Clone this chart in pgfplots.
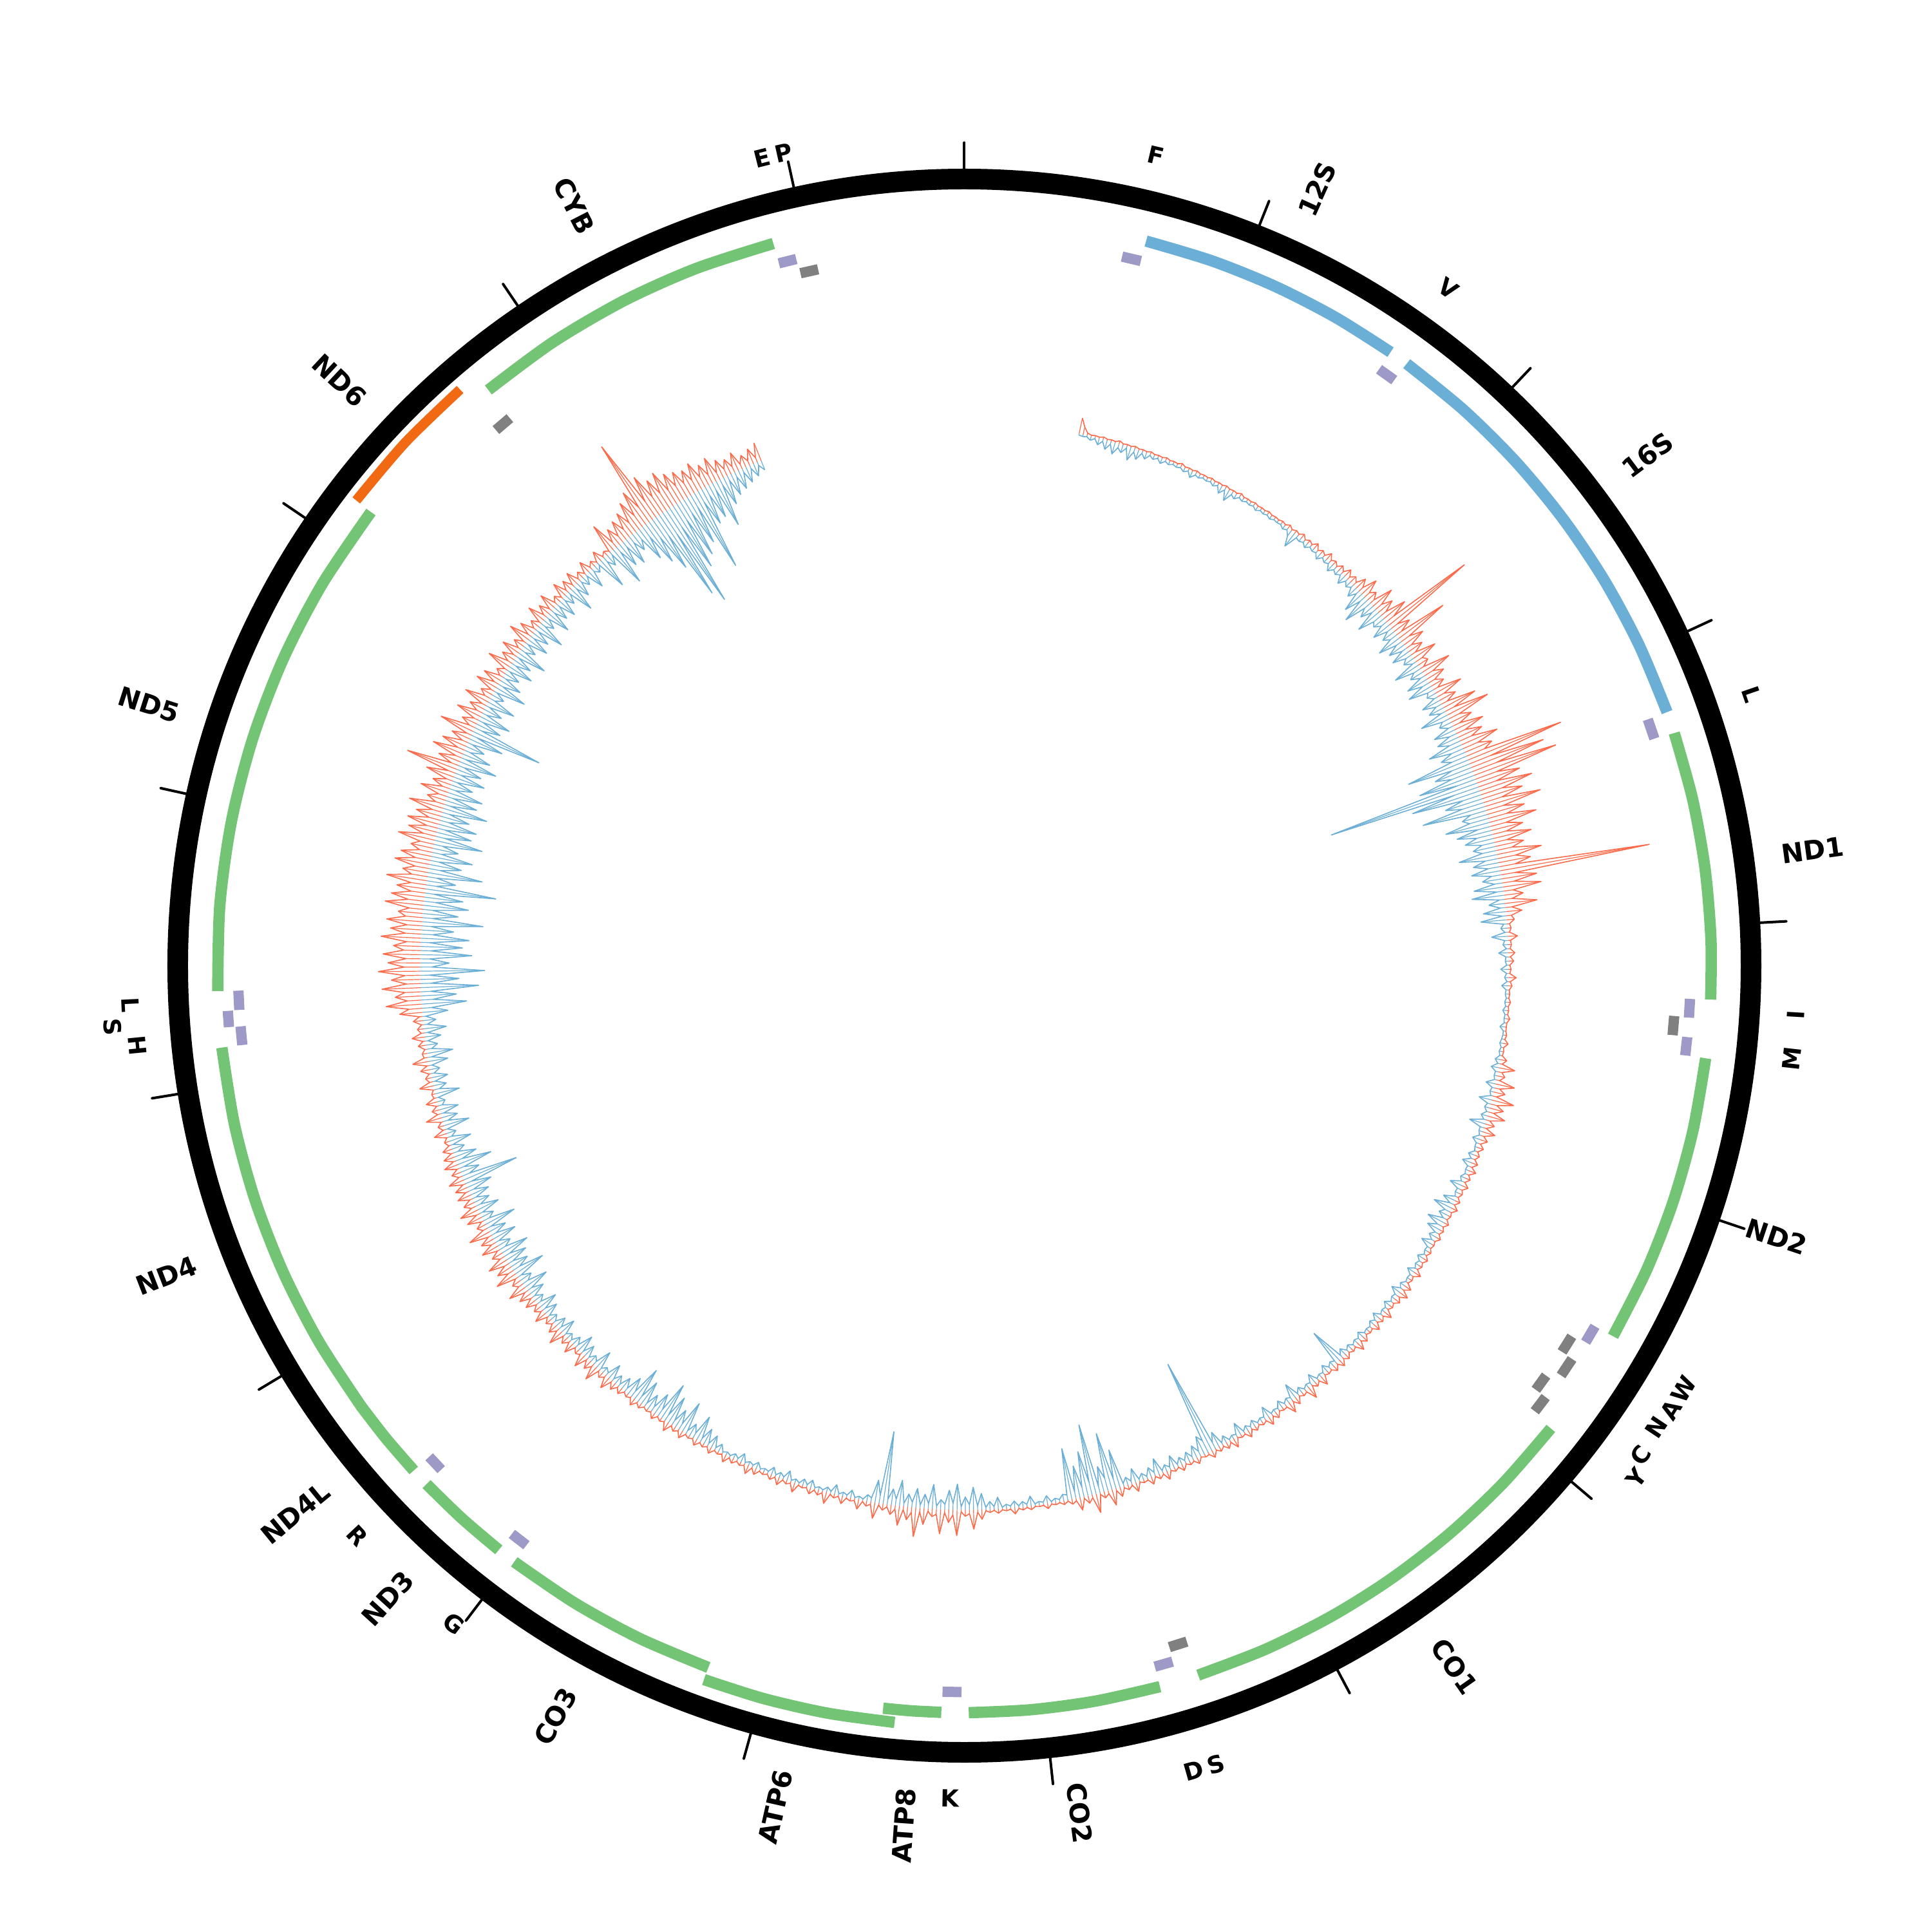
\documentclass[border=0pt]{standalone}
\usepackage{pgfplots}
\pgfplotsset{compat=1.18}
\usepackage{pgfplotstable}
\usepackage{fontspec}
\setmainfont{DejaVu Sans}
\definecolor{cgreen}{HTML}{74C476}
\definecolor{cblue}{HTML}{6BAED6}
\definecolor{corange}{HTML}{F16913}
\definecolor{cpurple}{HTML}{9E9AC8}
\definecolor{cgray}{HTML}{808080}
\definecolor{cred}{HTML}{FB6A4A}
\pgfplotsset{
  table/arc/.style={/pgfplots/table/row sep=\\,
    /pgfplots/table/x expr={#1*sin(\thisrow{b}*0.02172732)},
    /pgfplots/table/y expr={#1*cos(\thisrow{b}*0.02172732)}},
  gene/.style={line width=4.4pt, color=#1, smooth},
  trna/.style={line width=4pt, color=#1},
}
\pgfplotstableread{
b R B
560 25 2
580 12 3
600 4 2
620 2 6
640 3 2
660 2 10
680 4 3
700 2 14
720 3 4
740 2 18
760 5 6
780 2 12
800 3 3
820 2 20
840 4 5
860 2 15
880 3 3
900 2 10
920 4 2
940 2 6
960 3 2
980 2 8
1000 4 2
1020 2 5
1040 3 2
1060 2 4
1080 5 2
1100 2 6
1120 3 2
1140 2 10
1160 4 3
1180 2 5
1200 3 2
1220 2 4
1240 4 2
1260 2 6
1280 3 2
1300 2 12
1320 4 3
1340 2 18
1360 3 4
1380 2 8
1400 5 2
1420 2 5
1440 3 2
1460 2 4
1480 4 2
1500 2 6
1520 3 2
1540 2 4
1560 4 2
1580 2 5
1600 3 2
1620 2 3
1640 4 2
1660 2 6
1680 6 3
1700 2 10
1720 5 25
1740 3 4
1760 8 6
1780 2 3
1800 6 8
1820 3 2
1840 10 5
1860 2 3
1880 7 10
1900 3 2
1920 12 6
1940 4 3
1960 8 12
1980 3 4
2000 10 8
2020 4 3
2040 14 15
2060 5 4
2080 12 10
2100 6 5
2120 20 18
2140 8 6
2160 30 35
2180 10 10
2200 18 45
2220 8 12
2240 38 25
2260 12 8
2280 28 40
2300 10 15
2320 42 20
2340 15 10
2360 150 30
2380 12 8
2400 30 22
2420 10 12
2440 85 38
2460 15 10
2480 36 28
2500 10 8
2520 25 30
2540 8 10
2560 40 18
2580 12 6
2600 18 42
2620 6 12
2640 48 22
2660 15 8
2680 30 35
2700 10 12
2720 22 40
2740 8 10
2760 45 15
2780 12 6
2800 28 30
2820 10 10
2840 55 25
2860 15 8
2880 70 45
2900 18 12
2920 35 20
2940 12 8
2960 48 35
2980 15 12
3000 40 35
3020 20 18
3040 60 55
3060 25 20
3080 45 40
3100 30 25
3120 155 100
3140 35 30
3160 120 60
3180 40 35
3200 135 90
3220 35 30
3240 70 240
3260 30 40
3280 85 110
3300 35 30
3320 65 60
3340 30 35
3360 90 100
3380 28 25
3400 60 40
3420 30 30
3440 75 70
3460 25 20
3480 50 55
3500 22 25
3520 60 45
3540 20 20
3560 45 35
3580 25 22
3600 70 60
3620 28 20
3640 50 40
3660 25 18
3680 235 45
3700 22 15
3720 55 30
3740 18 12
3760 60 45
3780 15 10
3800 30 50
3820 12 8
3840 50 25
3860 10 8
3880 25 35
3900 8 6
3920 12 40
3940 4 5
3960 6 10
3980 3 4
4000 15 25
4020 4 5
4040 5 8
4060 3 3
4080 10 15
4100 3 4
4120 8 5
4140 2 3
4160 4 12
4180 2 3
4200 12 6
4220 3 2
4240 6 10
4260 2 3
4280 3 4
4300 2 2
4320 5 4
4340 2 2
4360 3 6
4380 2 2
4400 6 3
4420 2 2
4440 2 8
4460 2 2
4480 4 2
4500 2 3
4520 8 5
4540 2 2
4560 3 4
4580 2 2
4600 10 8
4620 4 3
4640 25 12
4660 6 4
4680 12 5
4700 5 3
4720 30 15
4740 8 4
4760 18 6
4780 6 3
4800 35 20
4820 10 5
4840 22 8
4860 8 3
4880 28 10
4900 6 4
4920 15 25
4940 4 6
4960 20 6
4980 4 3
5000 12 12
5020 3 4
5040 10 4
5060 3 2
5080 8 10
5100 3 3
5120 10 15
5140 3 4
5160 12 5
5180 3 3
5200 8 8
5220 2 4
5240 10 20
5260 3 5
5280 6 6
5300 2 3
5320 8 20
5340 2 6
5360 10 30
5380 3 8
5400 5 15
5420 2 5
5440 8 28
5460 2 8
5480 6 22
5500 2 5
5520 8 12
5540 2 4
5560 4 18
5580 2 4
5600 6 5
5620 2 2
5640 8 10
5660 3 3
5680 6 6
5700 2 2
5720 12 12
5740 3 3
5760 5 4
5780 2 2
5800 12 8
5820 3 3
5840 15 15
5860 4 4
5880 10 6
5900 3 2
5920 6 10
5940 2 3
5960 14 5
5980 3 2
6000 8 12
6020 2 3
6040 12 8
6060 3 2
6080 5 4
6100 2 2
6120 10 10
6140 3 3
6160 15 6
6180 3 2
6200 6 8
6220 2 3
6240 9 12
6260 3 4
6280 12 57
6300 3 4
6320 10 8
6340 3 3
6360 5 12
6380 2 3
6400 15 5
6420 3 2
6440 8 15
6460 2 4
6480 20 6
6500 4 2
6520 6 10
6540 2 3
6560 12 25
6580 3 5
6600 18 8
6620 4 3
6640 5 12
6660 2 3
6680 10 5
6700 3 2
6720 14 18
6740 3 4
6760 6 6
6780 2 2
6800 8 10
6820 2 3
6840 12 8
6860 3 2
6880 5 20
6900 2 4
6920 15 6
6940 3 2
6960 10 12
6980 3 3
7000 8 25
7020 3 10
7040 12 150
7060 4 20
7080 5 30
7100 2 8
7120 10 20
7140 3 5
7160 6 15
7180 2 4
7200 10 12
7220 2 3
7240 6 20
7260 2 4
7280 14 10
7300 3 3
7320 8 25
7340 2 5
7360 12 15
7380 3 3
7400 5 10
7420 2 3
7440 15 22
7460 3 4
7480 8 12
7500 3 4
7520 15 60
7540 4 15
7560 25 90
7580 5 20
7600 10 40
7620 3 10
7640 30 110
7660 5 20
7680 12 70
7700 3 15
7720 20 50
7740 4 10
7760 8 80
7780 2 8
7800 6 10
7820 2 3
7840 4 6
7860 2 2
7880 8 12
7900 2 3
7920 3 5
7940 2 2
7960 6 15
7980 2 3
8000 5 8
8020 2 2
8040 10 10
8060 2 3
8080 4 6
8100 2 2
8120 7 18
8140 2 4
8160 5 12
8180 2 3
8200 15 25
8220 4 6
8240 30 35
8260 6 8
8280 10 20
8300 3 5
8320 40 40
8340 8 10
8360 20 30
8380 5 8
8400 38 15
8420 8 5
8440 12 38
8460 4 8
8480 25 22
8500 6 5
8520 45 30
8540 8 8
8560 20 20
8580 5 5
8600 30 40
8620 6 10
8640 15 25
8660 4 8
8680 10 113
8700 3 12
8720 25 35
8740 4 6
8760 8 10
8780 2 2
8800 15 5
8820 3 2
8840 5 12
8860 2 3
8880 12 6
8900 2 2
8920 6 15
8940 2 3
8960 18 8
8980 3 2
9000 8 5
9020 2 2
9040 10 12
9060 2 3
9080 4 10
9100 2 2
9120 15 6
9140 3 2
9160 6 15
9180 2 3
9200 12 8
9220 2 2
9240 8 12
9260 2 3
9280 5 5
9300 2 2
9320 10 10
9340 2 3
9360 14 6
9380 3 2
9400 6 14
9420 2 3
9440 8 8
9460 2 2
9480 12 5
9500 2 2
9520 5 12
9540 2 3
9560 10 20
9580 2 4
9600 6 25
9620 2 6
9640 10 40
9660 2 8
9680 5 20
9700 2 5
9720 12 50
9740 3 10
9760 8 30
9780 2 8
9800 15 45
9820 3 10
9840 6 60
9860 2 12
9880 10 35
9900 2 8
9920 5 25
9940 2 6
9960 8 40
9980 3 10
10000 12 55
10020 3 10
10040 6 30
10060 2 6
10080 10 20
10100 3 4
10120 12 15
10140 3 4
10160 20 25
10180 4 5
10200 10 10
10220 3 3
10240 25 30
10260 5 6
10280 15 12
10300 3 3
10320 22 20
10340 4 4
10360 8 28
10380 2 5
10400 18 15
10420 3 3
10440 12 10
10460 3 3
10480 25 25
10500 5 5
10520 15 18
10540 3 4
10560 10 12
10580 2 3
10600 20 22
10620 4 5
10640 12 30
10660 3 6
10680 18 15
10700 4 4
10720 20 25
10740 6 8
10760 30 40
10780 8 10
10800 15 20
10820 5 6
10840 35 50
10860 10 12
10880 25 30
10900 8 8
10920 32 35
10940 8 10
10960 18 45
10980 5 10
11000 28 22
11020 8 6
11040 22 38
11060 6 8
11080 35 28
11100 8 6
11120 15 50
11140 4 10
11160 25 20
11180 6 5
11200 30 35
11220 8 8
11240 18 25
11260 5 6
11280 22 30
11300 6 8
11320 20 40
11340 5 10
11360 25 88
11380 6 12
11400 15 30
11420 4 8
11440 22 55
11460 5 10
11480 18 35
11500 4 8
11520 15 20
11540 3 4
11560 8 35
11580 2 6
11600 20 15
11620 4 3
11640 10 40
11660 3 8
11680 25 25
11700 5 5
11720 12 30
11740 3 6
11760 18 12
11780 4 3
11800 6 38
11820 2 8
11840 22 20
11860 5 4
11880 10 25
11900 3 5
11920 15 15
11940 4 4
11960 25 30
11980 6 6
12000 8 40
12020 3 8
12040 12 18
12060 4 4
12080 20 25
12100 5 5
12120 10 35
12140 3 6
12160 15 20
12180 5 5
12200 35 40
12220 20 15
12240 55 70
12260 22 18
12280 40 55
12300 25 15
12320 60 90
12340 22 16
12360 45 60
12380 24 14
12400 65 100
12420 25 18
12440 50 45
12460 22 15
12480 58 80
12500 26 16
12520 42 65
12540 22 14
12560 62 75
12580 25 18
12600 48 50
12620 23 15
12640 55 95
12660 26 16
12680 38 55
12700 22 15
12720 60 70
12740 25 18
12760 52 60
12780 22 14
12800 45 110
12820 24 16
12840 63 45
12860 25 15
12880 40 85
12900 22 18
12920 55 50
12940 24 14
12960 48 65
12980 20 15
13000 35 40
13020 22 14
13040 58 75
13060 20 15
13080 45 55
13100 18 12
13120 50 60
13140 18 14
13160 40 45
13180 16 12
13200 55 70
13220 15 10
13240 30 50
13260 14 10
13280 45 55
13300 12 10
13320 30 35
13340 10 8
13360 45 50
13380 12 10
13400 82 40
13420 12 10
13440 35 60
13460 10 8
13480 50 45
13500 12 10
13520 40 30
13540 10 8
13560 30 55
13580 8 10
13600 55 113
13620 10 12
13640 25 40
13660 8 8
13680 40 50
13700 10 8
13720 25 30
13740 8 6
13760 40 45
13780 10 8
13800 20 20
13820 6 5
13840 35 50
13860 8 8
13880 30 35
13900 6 6
13920 15 25
13940 5 5
13960 38 40
13980 8 8
14000 22 30
14020 6 5
14040 30 48
14060 6 8
14080 18 22
14100 5 4
14120 35 35
14140 6 6
14160 25 28
14180 5 5
14200 15 45
14220 4 8
14240 30 20
14260 6 5
14280 20 38
14300 5 6
14320 28 25
14340 5 5
14360 12 30
14380 3 5
14400 25 18
14420 5 4
14440 18 42
14460 4 6
14480 22 25
14500 4 4
14520 12 15
14540 3 3
14560 20 30
14580 4 5
14600 10 12
14620 3 3
14640 18 50
14660 3 8
14680 8 20
14700 3 5
14720 47 63
14740 10 10
14760 30 40
14780 12 10
14800 35 45
14820 15 12
14840 40 30
14860 18 15
14880 50 55
14900 22 20
14920 60 70
14940 28 30
14960 138 90
14980 30 35
15000 70 146
15020 30 40
15040 55 165
15060 28 35
15080 60 110
15100 25 30
15120 50 95
15140 25 25
15160 45 80
15180 22 22
15200 40 129
15220 20 20
15240 45 60
15260 18 15
15280 35 55
15300 15 12
15320 40 75
15340 12 10
15360 30 45
15380 12 8
15400 25 35
15420 10 8
15440 30 30
15460 8 6
15480 20 25
15500 8 5
15520 25 20
15540 8 5
15560 30 15
}\spikes
\newcommand\glab[2]{%
  \pgfmathsetmacro\th{#1*0.02172732}%
  \pgfmathsetmacro\ph{90-\th}%
  \ifdim\th pt<180pt
    \node[font=\fontsize{10.3}{12}\selectfont\bfseries, rotate=\ph, anchor=west, inner sep=0pt] at (\ph:320pt) {#2};%
  \else
    \pgfmathsetmacro\phb{\ph+180}%
    \node[font=\fontsize{10.3}{12}\selectfont\bfseries, rotate=\phb, anchor=east, inner sep=0pt] at (\ph:320pt) {#2};%
  \fi}
\newcommand\tlab[3]{%
  \pgfmathsetmacro\th{#1*0.02172732}%
  \pgfmathsetmacro\ph{90-\th}%
  \pgfmathsetmacro\rot{ifthenelse(or(\th<90,\th>=270),-\th,180-\th)}%
  \pgfmathsetmacro\rr{#2*0.25}%
  \node[font=\fontsize{9.2}{11}\selectfont\bfseries, rotate=\rot, inner sep=0pt] at (\ph:\rr pt) {#3};}
\begin{document}
\begin{tikzpicture}
\begin{axis}[x=0.25pt, y=0.25pt, xmin=-1497.5, xmax=1502.5, ymin=-1500.5, ymax=1499.5,
  hide axis, clip=false, anchor=origin, at={(0,0)}]
% inner data: blue (inward), then red (outward)
\addplot[cblue, line width=0.3pt,
  quiver={u=-\thisrow{B}*sin(\thisrow{b}*0.02172732), v=-\thisrow{B}*cos(\thisrow{b}*0.02172732)}]
  table[x expr={845*sin(\thisrow{b}*0.02172732)}, y expr={845*cos(\thisrow{b}*0.02172732)}] {\spikes};
\addplot[cblue, line width=0.4pt, line join=round]
  table[x expr={(845-\thisrow{B})*sin(\thisrow{b}*0.02172732)}, y expr={(845-\thisrow{B})*cos(\thisrow{b}*0.02172732)}] {\spikes};
\addplot[cred, line width=0.3pt,
  quiver={u=\thisrow{R}*sin(\thisrow{b}*0.02172732), v=\thisrow{R}*cos(\thisrow{b}*0.02172732)}]
  table[x expr={845*sin(\thisrow{b}*0.02172732)}, y expr={845*cos(\thisrow{b}*0.02172732)}] {\spikes};
\addplot[cred, line width=0.4pt, line join=round]
  table[x expr={(845+\thisrow{R})*sin(\thisrow{b}*0.02172732)}, y expr={(845+\thisrow{R})*cos(\thisrow{b}*0.02172732)}] {\spikes};
% rRNA
\addplot[gene=cblue] table[arc=1160] {b\\648\\890\\1130\\1370\\1601\\};
\addplot[gene=cblue] table[arc=1160] {b\\1671\\1930\\2190\\2450\\2710\\2970\\3229\\};
% protein coding, H strand
\addplot[gene=cgreen] table[arc=1160] {b\\3307\\3550\\3800\\4050\\4262\\};
\addplot[gene=cgreen] table[arc=1160] {b\\4470\\4730\\4990\\5250\\5511\\};
\addplot[gene=cgreen] table[arc=1160] {b\\5904\\6160\\6420\\6680\\6930\\7190\\7445\\};
\addplot[gene=cgreen] table[arc=1160] {b\\7586\\7820\\8050\\8269\\};
\addplot[gene=cgreen] table[arc=1160] {b\\8366\\8470\\8572\\};
\addplot[gene=cgreen] table[arc=1180] {b\\8527\\8760\\8990\\9207\\};
\addplot[gene=cgreen] table[arc=1160] {b\\9207\\9470\\9730\\9990\\};
\addplot[gene=cgreen] table[arc=1160] {b\\10059\\10230\\10404\\};
\addplot[gene=cgreen] table[arc=1160] {b\\10470\\10620\\10766\\};
\addplot[gene=cgreen] table[arc=1160] {b\\10760\\11035\\11310\\11585\\11860\\12137\\};
\addplot[gene=cgreen] table[arc=1160] {b\\12337\\12640\\12940\\13240\\13540\\13840\\14148\\};
\addplot[gene=cgreen] table[arc=1160] {b\\14747\\15030\\15320\\15600\\15887\\};
% ND6, L strand
\addplot[line width=3.8pt, color=corange, smooth] table[arc=1189] {b\\14149\\14410\\14673\\};
% tRNA, H strand
\addplot[trna=cpurple] table[arc=1128] {b\\577\\647\\};
\addplot[trna=cpurple] table[arc=1128] {b\\1602\\1670\\};
\addplot[trna=cpurple] table[arc=1128] {b\\3230\\3304\\};
\addplot[trna=cpurple] table[arc=1128] {b\\4263\\4331\\};
\addplot[trna=cpurple] table[arc=1128] {b\\4402\\4469\\};
\addplot[trna=cpurple] table[arc=1128] {b\\5512\\5579\\};
\addplot[trna=cpurple] table[arc=1128] {b\\7518\\7585\\};
\addplot[trna=cpurple] table[arc=1128] {b\\8295\\8364\\};
\addplot[trna=cpurple] table[arc=1128] {b\\9991\\10058\\};
\addplot[trna=cpurple] table[arc=1128] {b\\10405\\10469\\};
\addplot[trna=cpurple] table[arc=1128] {b\\12138\\12206\\};
\addplot[trna=cpurple] table[arc=1146] {b\\12207\\12265\\};
\addplot[trna=cpurple] table[arc=1128] {b\\12266\\12336\\};
\addplot[trna=cpurple] table[arc=1128] {b\\15888\\15953\\};
% tRNA, L strand
\addplot[trna=cgray] table[arc=1105] {b\\4329\\4400\\};
\addplot[trna=cgray] table[arc=1105] {b\\5587\\5655\\};
\addplot[trna=cgray] table[arc=1124] {b\\5657\\5729\\};
\addplot[trna=cgray] table[arc=1105] {b\\5761\\5826\\};
\addplot[trna=cgray] table[arc=1124] {b\\5826\\5891\\};
\addplot[trna=cgray] table[arc=1105] {b\\7446\\7514\\};
\addplot[trna=cgray] table[arc=1105] {b\\14674\\14742\\};
\addplot[trna=cgray] table[arc=1105] {b\\15956\\16023\\};
\end{axis}
% outer ring and 1 kb ticks
\draw[line width=8pt] (0,0) circle (305.375pt);
\foreach \k in {0,...,16} {\draw[line width=1pt, line cap=round] ({90-\k*21.72732}:305pt) -- ({90-\k*21.72732}:319.5pt);}
% gene labels
\glab{1125}{12S}
\glab{2450}{16S}
\glab{3785}{ND1}
\glab{4991}{ND2}
\glab{6675}{CO1}
\glab{7928}{CO2}
\glab{8469}{ATP8}
\glab{8867}{ATP6}
\glab{9599}{CO3}
\glab{10232}{ND3}
\glab{10618}{ND4L}
\glab{11449}{ND4}
\glab{13243}{ND5}
\glab{14411}{ND6}
\glab{15317}{CYB}
% tRNA labels
\tlab{612}{1293}{F}
\tlab{1636}{1293}{V}
\tlab{3267}{1293}{L}
\tlab{4297}{1293}{I}
\tlab{4436}{1293}{M}
\tlab{5546}{1296}{W}
\tlab{5621}{1296}{A}
\tlab{5693}{1292}{N}
\tlab{5794}{1296}{C}
\tlab{5859}{1312}{Y}
\tlab{7480}{1300}{S}
\tlab{7552}{1300}{D}
\tlab{8330}{1293}{K}
\tlab{10025}{1293}{G}
\tlab{10437}{1293}{R}
\tlab{12172}{1290}{H}
\tlab{12236}{1326}{S}
\tlab{12301}{1297}{L}
\tlab{15921}{1293}{E}
\tlab{15990}{1293}{P}
\pgfresetboundingbox
\path (-374.375pt,-375.125pt) rectangle (375.625pt,374.875pt);
\end{tikzpicture}
\end{document}
